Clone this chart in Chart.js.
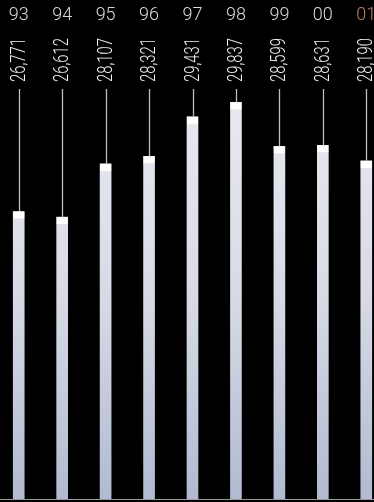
<!DOCTYPE html>
<html>
<head>
<meta charset="utf-8">
<script src="https://cdn.jsdelivr.net/npm/chart.js@4/dist/chart.umd.min.js"></script>
<style>
  html, body { margin: 0; padding: 0; background: #000; overflow: hidden; }
  #outer { width: 374px; height: 502px; overflow: hidden; position: relative; }
  #wrap { width: 391px; height: 502px; position: absolute; left: -3px; top: 0; }
</style>
</head>
<body>
<div id="outer"><div id="wrap"><canvas id="chart"></canvas></div></div>
<script>
// years (two-digit) and values, left to right
const years = ['93', '94', '95', '96', '97', '98', '99', '00', '01'];
const values = [26771, 26612, 28107, 28321, 29431, 29837, 28599, 28631, 28190];
const highlightYear = '01';

// year labels, white cap, leader line, rotated value label, baseline
const barDecor = {
    id: 'barDecor',
    afterDatasetsDraw(chart) {
        const ctx = chart.ctx;
        const area = chart.chartArea;
        const meta = chart.getDatasetMeta(0);
        const xScale = chart.scales.x;

        ctx.save();
        ctx.strokeStyle = '#9a9a9a';
        ctx.lineWidth = 1;
        ctx.beginPath();
        ctx.moveTo(0, area.bottom + 0.5);
        ctx.lineTo(chart.width, area.bottom + 0.5);
        ctx.stroke();

        years.forEach((yr, i) => {
            ctx.font = '300 18px Roboto';
            ctx.textAlign = 'center';
            ctx.textBaseline = 'middle';
            ctx.fillStyle = yr === highlightYear ? '#c27a5c' : '#d9d9d9';
            ctx.fillText(yr, xScale.getPixelForValue(i), 15);
        });

        meta.data.forEach((bar, i) => {
            const x = bar.x;
            const top = bar.y;
            const w = bar.width;

            ctx.fillStyle = '#ffffff';
            ctx.fillRect(x - w / 2, top, w, 7);

            ctx.strokeStyle = '#bdbdbd';
            ctx.lineWidth = 1.3;
            ctx.beginPath();
            ctx.moveTo(Math.round(x) + 0.5, 89);
            ctx.lineTo(Math.round(x) + 0.5, top);
            ctx.stroke();

            ctx.save();
            ctx.translate(x, 82);
            ctx.rotate(-Math.PI / 2);
            ctx.scale(0.74, 1);
            ctx.font = '300 20px Roboto';
            ctx.fillStyle = '#f2f2f2';
            ctx.textAlign = 'left';
            ctx.textBaseline = 'middle';
            ctx.fillText(values[i].toLocaleString('en-US'), 0, 1);
            ctx.restore();
        });
        ctx.restore();
    }
};

const ctx = document.getElementById('chart').getContext('2d');

new Chart(ctx, {
    type: 'bar',
    data: {
        labels: years,
        datasets: [{
            data: values,
            barThickness: 11,
            backgroundColor: (c) => {
                const area = c.chart.chartArea;
                if (!area) return '#d6d9e4';
                const g = c.chart.ctx.createLinearGradient(0, area.top, 0, area.bottom);
                g.addColorStop(0, '#e8e9f0');
                g.addColorStop(0.5, '#d7dae5');
                g.addColorStop(1, '#b1bad1');
                return g;
            },
            borderWidth: 0
        }]
    },
    options: {
        responsive: true,
        maintainAspectRatio: false,
        animation: false,
        layout: { padding: { top: 100, bottom: 3, left: 0, right: 0 } },
        plugins: {
            legend: { display: false },
            tooltip: { enabled: false }
        },
        scales: {
            x: { display: false },
            y: {
                display: false,
                min: 18700,
                max: 29900
            }
        }
    },
    plugins: [barDecor]
});
</script>
</body>
</html>
